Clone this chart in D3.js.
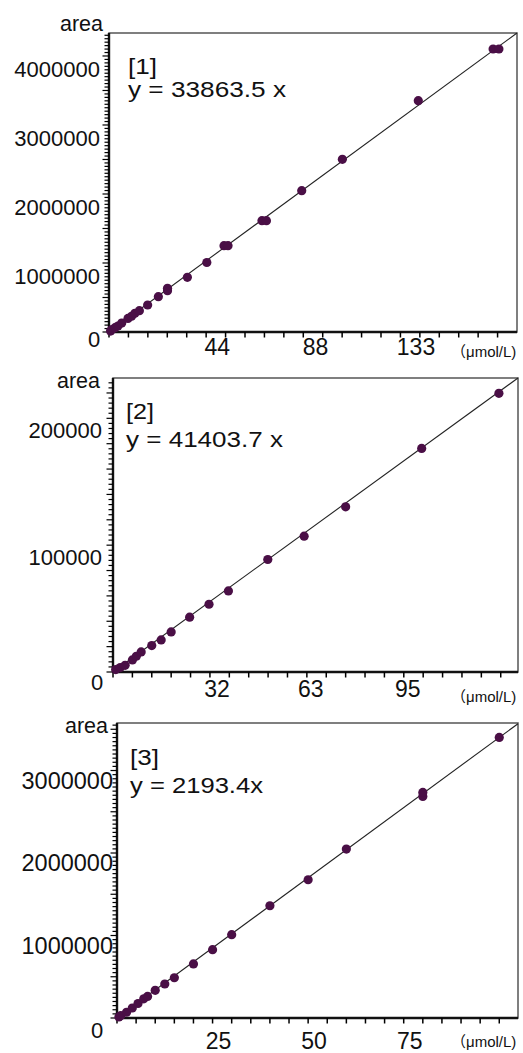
<!DOCTYPE html>
<html lang="en">
<head>
<meta charset="utf-8">
<title>calibration curves</title>
<style>
  body { margin: 0; background: #fff; }
  svg text { font-family: "Liberation Sans", Arial, sans-serif; fill: #111; }
</style>
</head>
<body>
<svg id="chart" width="523" height="1053"></svg>
<script src="https://d3js.org/d3.v7.min.js"></script>
<script>
  // panel [1]
  var conc1 = [0.7, 1.3, 2.7, 4.0, 5.7, 8.5, 10.1, 11.6, 13.6, 17.3, 22.1, 26.2, 26.2, 35.1, 43.8, 51.5, 53.3, 68.5, 70.5, 86.3, 104.5, 138.5, 172, 174.6];
  var area1 = [14000, 36000, 62000, 87000, 130000, 196000, 228000, 271000, 309000, 391000, 512000, 599000, 633000, 793000, 1007000, 1251000, 1251000, 1613000, 1613000, 2048000, 2503000, 3352000, 4101000, 4101000];
  var xLabels1 = [44, 88, 133];
  var yLabels1 = [1000000, 2000000, 3000000, 4000000];
  var fit1 = 23717;
  var eq1 = "y = 33863.5 x";

  // panel [2]
  var conc2 = [0.9, 2.4, 4.0, 6.4, 7.7, 9.3, 12.8, 15.9, 19.2, 25.3, 31.7, 38.1, 51.1, 63.1, 76.8, 101.9, 127.4];
  var area2 = [1900, 3500, 5300, 9500, 12400, 15800, 20800, 25300, 31600, 43200, 53400, 63900, 88700, 107100, 130200, 176300, 219700];
  var xLabels2 = [32, 63, 95];
  var yLabels2 = [100000, 200000];
  var fit2 = 1734;
  var eq2 = "y = 41403.7 x";

  // panel [3]
  var conc3 = [0.5, 1, 2.5, 4, 5.5, 7, 8, 10, 12.5, 15, 20, 25, 30, 40, 50, 60, 80, 80, 100];
  var area3 = [12000, 30000, 70000, 121000, 176000, 232000, 262000, 335000, 412000, 488000, 655000, 828000, 1010000, 1361000, 1676000, 2048000, 2686000, 2735000, 3401000];
  var xLabels3 = [25, 50, 75];
  var yLabels3 = [1000000, 2000000, 3000000];
  var fit3 = 34010;
  var eq3 = "y = 2193.4x";

  var unitLabel = "\uFF08\u03BCmol/L)";
  var dotColor = "#4a0f46";

  var panels = [
    {xs: conc1, ys: area1, xLabels: xLabels1, yLabels: yLabels1, fit: fit1, eq: eq1, tag: "[1]",
     l: 109, t: 33, r: 517, b: 332, xMax: 182.7, yMax: 4333000, xStep: 8.7, yMinor: 50000, yMajor: 500000,
     yLabX: 100, yLabDy: 21, yFont: 22, xLabDx: 10, xLabY: 355, zeroX: 94, zeroY: 347,
     areaX: 103, areaY: 31, unitY: 357, tagX: 128, tagY: 74, eqY: 97, tagW: 29, eqW: 158},
    {xs: conc2, ys: area2, xLabels: xLabels2, yLabels: yLabels2, fit: fit2, eq: eq2, tag: "[2]",
     l: 113, t: 378, r: 518, b: 672, xMax: 133.7, yMax: 231800, xStep: 6.4, yMinor: 4000, yMajor: 20000,
     yLabX: 102, yLabDy: 20, yFont: 22, xLabDx: 7, xLabY: 697, zeroX: 97, zeroY: 690,
     areaX: 100, areaY: 388, unitY: 702, tagX: 126, tagY: 419, eqY: 447, tagW: 28, eqW: 157},
    {xs: conc3, ys: area3, xLabels: xLabels3, yLabels: yLabels3, fit: fit3, eq: eq3, tag: "[3]",
     l: 117, t: 723, r: 518, b: 1018, xMax: 104.9, yMax: 3576000, xStep: 5, yMinor: 50000, yMajor: 500000,
     yLabX: 113, yLabDy: 18, yFont: 23.5, xLabDx: 6, xLabY: 1049, zeroX: 97, zeroY: 1038,
     areaX: 108, areaY: 733, unitY: 1047, tagX: 130, tagY: 765, eqY: 793, tagW: 29, eqW: 133}
  ];

  var svg = d3.select("#chart");

  function drawPanel(p) {
    var g = svg.append("g");

    var x = d3.scaleLinear().domain([0, p.xMax]).range([p.l, p.r]);
    var y = d3.scaleLinear().domain([0, p.yMax]).range([p.b, p.t]);

    // frame
    g.append("rect")
      .attr("x", p.l).attr("y", p.t)
      .attr("width", p.r - p.l).attr("height", p.b - p.t)
      .attr("fill", "none").attr("stroke", "#555").attr("stroke-width", 1.5);

    // heavy axis lines
    g.append("line")
      .attr("x1", x(0)).attr("x2", x(0)).attr("y1", y(p.yMax)).attr("y2", y(0))
      .attr("stroke", "#111").attr("stroke-width", 2.4);
    g.append("line")
      .attr("x1", x(0)).attr("x2", x(p.xMax)).attr("y1", y(0)).attr("y2", y(0))
      .attr("stroke", "#111").attr("stroke-width", 2.4);

    // y ticks, long on the major step
    g.selectAll("line.ytick")
      .data(d3.range(0, p.yMax, p.yMinor))
      .join("line")
      .attr("class", "ytick")
      .attr("x1", x(0))
      .attr("x2", function(d) { return x(0) - (d % p.yMajor === 0 ? 6.5 : 4.5); })
      .attr("y1", function(d) { return y(d); })
      .attr("y2", function(d) { return y(d); })
      .attr("stroke", "#000").attr("stroke-width", 1.2);

    // x ticks
    g.selectAll("line.xtick")
      .data(d3.range(0, p.xMax, p.xStep))
      .join("line")
      .attr("class", "xtick")
      .attr("x1", function(d) { return x(d); })
      .attr("x2", function(d) { return x(d); })
      .attr("y1", y(0))
      .attr("y2", y(0) + 5.5)
      .attr("stroke", "#000").attr("stroke-width", 1.5);

    // fitted line
    var fitLine = d3.line()
      .x(function(d) { return x(d); })
      .y(function(d) { return y(d * p.fit); });
    g.append("path")
      .attr("d", fitLine([0, p.xMax]))
      .attr("fill", "none").attr("stroke", "#222").attr("stroke-width", 1.1);

    // points
    g.selectAll("circle")
      .data(p.xs)
      .join("circle")
      .attr("cx", function(d) { return x(d); })
      .attr("cy", function(d, i) { return y(p.ys[i]); })
      .attr("r", 4.6)
      .attr("fill", dotColor);

    // y labels
    g.selectAll("text.ylab")
      .data(p.yLabels)
      .join("text")
      .attr("class", "ylab")
      .attr("x", p.yLabX)
      .attr("y", function(d) { return y(d) + p.yLabDy; })
      .attr("text-anchor", "end")
      .style("font-size", p.yFont + "px")
      .text(function(d) { return d; });

    // x labels
    g.selectAll("text.xlab")
      .data(p.xLabels)
      .join("text")
      .attr("class", "xlab")
      .attr("x", function(d) { return x(d) + p.xLabDx; })
      .attr("y", p.xLabY)
      .attr("text-anchor", "middle")
      .style("font-size", "23px")
      .text(function(d) { return d; });

    g.append("text")
      .attr("x", p.zeroX).attr("y", p.zeroY)
      .attr("text-anchor", "middle")
      .style("font-size", "22px")
      .text("0");

    g.append("text")
      .attr("x", p.areaX).attr("y", p.areaY)
      .attr("text-anchor", "end")
      .style("font-size", "21.5px")
      .text("area");

    g.append("text")
      .attr("x", 451).attr("y", p.unitY)
      .style("font-size", "15px")
      .style("font-family", "'Liberation Sans', 'Noto Sans CJK JP', sans-serif")
      .text(unitLabel);

    g.append("text")
      .attr("x", p.tagX).attr("y", p.tagY)
      .attr("textLength", p.tagW).attr("lengthAdjust", "spacingAndGlyphs")
      .style("font-size", "22px")
      .text(p.tag);

    g.append("text")
      .attr("x", p.tagX).attr("y", p.eqY)
      .attr("textLength", p.eqW).attr("lengthAdjust", "spacingAndGlyphs")
      .style("font-size", "22px")
      .text(p.eq);
  }

  panels.forEach(drawPanel);
</script>
</body>
</html>
